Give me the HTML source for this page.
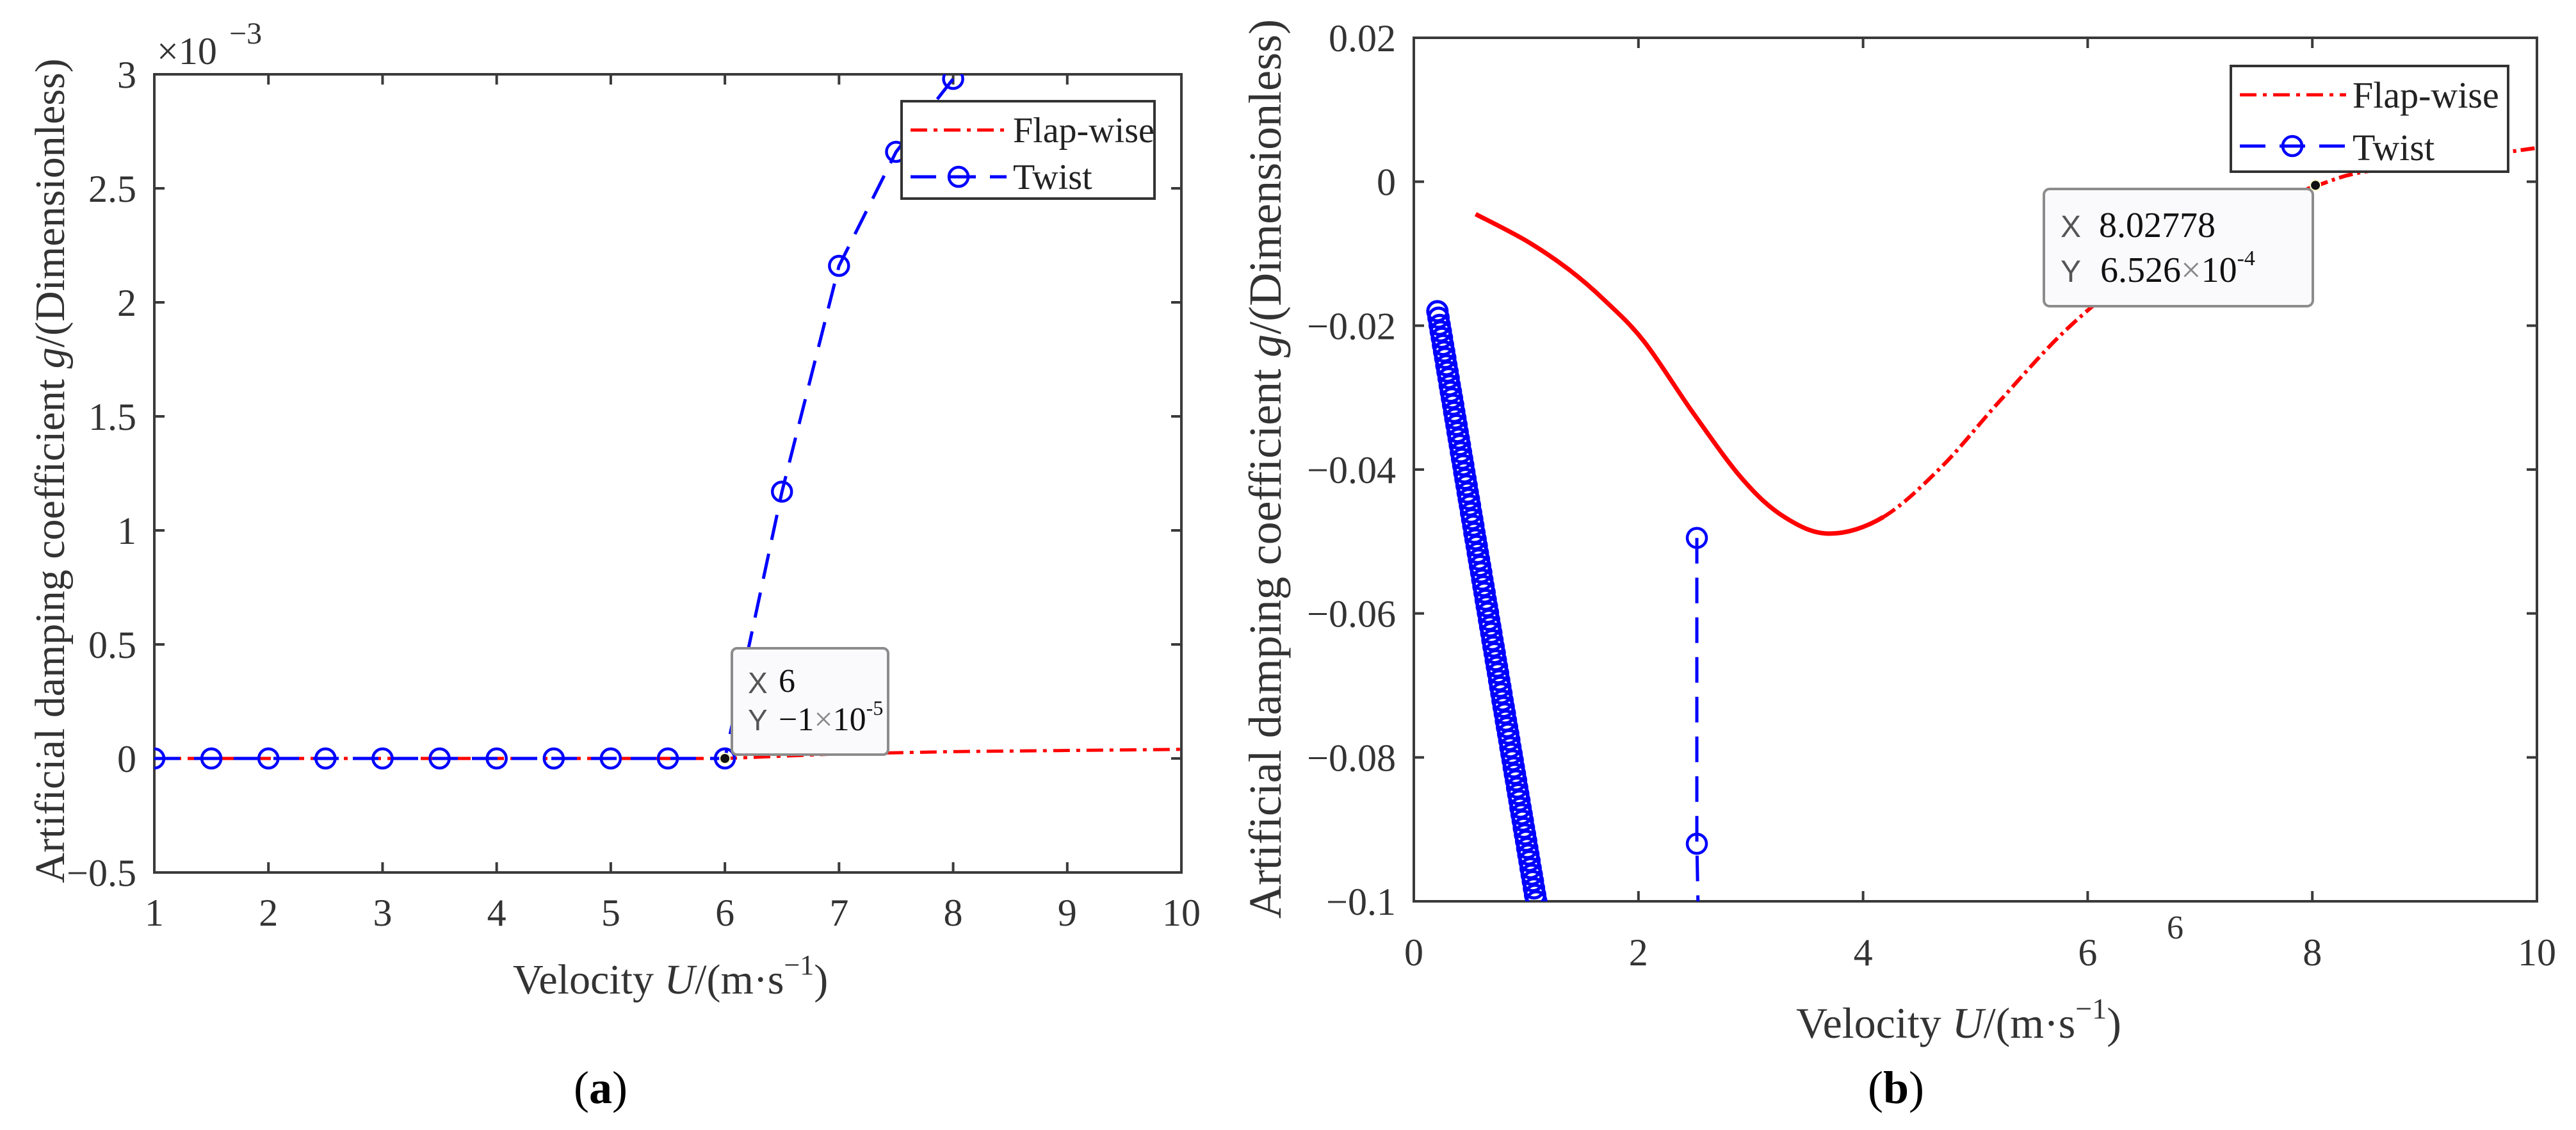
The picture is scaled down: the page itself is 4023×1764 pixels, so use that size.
<!DOCTYPE html>
<html><head><meta charset="utf-8">
<style>
html,body{margin:0;padding:0;background:#fff;}
</style></head>
<body>
<svg id="fig" width="4023" height="1759" viewBox="0 0 4023 1759" xmlns="http://www.w3.org/2000/svg" font-family="Liberation Serif, serif">
<defs>
<clipPath id="clipA"><rect x="241" y="116" width="1604" height="1246"/></clipPath>
<clipPath id="clipB"><rect x="2208" y="59" width="1754" height="1348"/></clipPath>
</defs>
<g id="panelA"></g>
<g id="panelB"></g>
</svg>
<script>
// ---- Panel (a) data ----
const aXTicks = [1,2,3,4,5,6,7,8,9,10];
const aYTicks = [-0.5,0,0.5,1,1.5,2,2.5,3];
const aYTickLabels = ["\u22120.5","0","0.5","1","1.5","2","2.5","3"];
const aTwistX = [1,1.5,2,2.5,3,3.5,4,4.5,5,5.5,6,6.5,7,7.5,8];
const aTwistY = [0,0,0,0,0,0,0,0,0,0,0,1.17,2.16,2.66,2.98];
const aFlapX = [1,6,7,8,9,10];
const aFlapY = [0,0,0.02,0.03,0.035,0.04];
// ---- Panel (b) data ----
const bXTicks = [0,2,4,6,8,10];
const bYTicks = [-0.1,-0.08,-0.06,-0.04,-0.02,0,0.02];
const bYTickLabels = ["\u22120.1","\u22120.08","\u22120.06","\u22120.04","\u22120.02","0","0.02"];
const bFlapX = [0.55,1.0,1.38,1.7,2.05,2.49,2.93,3.3,3.7,4.18,4.7,5.21,5.8,6.4,7.0,7.5,8.03,8.4,9.0,9.5,10];
const bFlapY = [-0.0045,-0.0082,-0.0122,-0.0165,-0.0222,-0.0322,-0.0414,-0.0466,-0.0489,-0.0466,-0.0396,-0.0306,-0.0207,-0.013,-0.0075,-0.0035,-0.0006,0.0012,0.0025,0.0036,0.0047];
const bTwistX = [0.21,0.22,0.23,0.24,0.25,0.26,0.27,0.28,0.29,0.30,0.31,0.32,0.33,0.34,0.35,0.36,0.37,0.38,0.39,0.40,0.41,0.42,0.43,0.44,0.45,0.46,0.47,0.48,0.49,0.50,0.51,0.52,0.53,0.54,0.55,0.56,0.57,0.58,0.59,0.60,0.61,0.62,0.63,0.64,0.65,0.66,0.67,0.68,0.69,0.70,0.71,0.72,0.73,0.74,0.75,0.76,0.77,0.78,0.79,0.80,0.81,0.82,0.83,0.84,0.85,0.86,0.87,0.88,0.89,0.90,0.91,0.92,0.93,0.94,0.95,0.96,0.97,0.98,0.99,1.00,1.01,1.02,1.03,1.04,1.05,1.06,1.07,1.08,1.09];
const bTwistY = [-0.0180,-0.0189,-0.0199,-0.0208,-0.0217,-0.0227,-0.0236,-0.0245,-0.0255,-0.0264,-0.0273,-0.0283,-0.0292,-0.0301,-0.0310,-0.0320,-0.0329,-0.0338,-0.0348,-0.0357,-0.0366,-0.0376,-0.0385,-0.0394,-0.0404,-0.0413,-0.0422,-0.0432,-0.0441,-0.0450,-0.0460,-0.0469,-0.0478,-0.0488,-0.0497,-0.0506,-0.0516,-0.0525,-0.0534,-0.0543,-0.0553,-0.0562,-0.0571,-0.0581,-0.0590,-0.0599,-0.0609,-0.0618,-0.0627,-0.0637,-0.0646,-0.0655,-0.0665,-0.0674,-0.0683,-0.0693,-0.0702,-0.0711,-0.0721,-0.0730,-0.0739,-0.0749,-0.0758,-0.0767,-0.0776,-0.0786,-0.0795,-0.0804,-0.0814,-0.0823,-0.0832,-0.0842,-0.0851,-0.0860,-0.0870,-0.0879,-0.0888,-0.0898,-0.0907,-0.0916,-0.0926,-0.0935,-0.0944,-0.0954,-0.0963,-0.0972,-0.0982,-0.0991,-0.1000];
const bTwist2X = [2.52,2.52,2.53];
const bTwist2Y = [-0.0495,-0.092,-0.1];

const NS = "http://www.w3.org/2000/svg";
const SERIF = "Liberation Serif, serif";
function mk(parent, tag, attrs, text){
  const e = document.createElementNS(NS, tag);
  for (const k in attrs) e.setAttribute(k, attrs[k]);
  if (tag === "text" && !attrs["font-family"]) e.setAttribute("font-family", SERIF);
  if (text !== undefined) e.textContent = text;
  parent.appendChild(e);
  return e;
}
function smoothPath(pts){
  if (pts.length < 2) return "";
  let d = "M" + pts[0][0] + "," + pts[0][1];
  for (let i = 0; i < pts.length - 1; i++){
    const p0 = pts[i-1] || pts[i], p1 = pts[i], p2 = pts[i+1], p3 = pts[i+2] || p2;
    const c1x = p1[0] + (p2[0]-p0[0])/6, c1y = p1[1] + (p2[1]-p0[1])/6;
    const c2x = p2[0] - (p3[0]-p1[0])/6, c2y = p2[1] - (p3[1]-p1[1])/6;
    d += " C" + c1x + "," + c1y + " " + c2x + "," + c2y + " " + p2[0] + "," + p2[1];
  }
  return d;
}

function drawAxes(g, L, T, R, B, xTicks, xs, yTicks, ys, yLabels, xLabelY, yLabelX, fs){
  const frame = mk(g, "rect", {x:L, y:T, width:R-L, height:B-T, fill:"none", stroke:"#3a3a3a", "stroke-width":4});
  
  
  xTicks.forEach(v => {
    const x = xs(v);
    const t = mk(g, "path", {d:`M${x},${B}V${B-16}M${x},${T}V${T+16}`, stroke:"#3a3a3a", "stroke-width":4});
    
    
    const lb = mk(g, "text", {x:x, y:xLabelY, "font-size":fs, "text-anchor":"middle", fill:"#333"}, String(v));
    
    
  });
  yTicks.forEach((v, i) => {
    const y = ys(v);
    const t = mk(g, "path", {d:`M${L},${y}H${L+16}M${R},${y}H${R-16}`, stroke:"#3a3a3a", "stroke-width":4});
    
    
    const lb = mk(g, "text", {x:yLabelX, y:y+21, "font-size":fs, "text-anchor":"end", fill:"#333"}, yLabels[i]);
    
    
  });
}

function circle(g, x, y, r, sw){
  return mk(g, "circle", {cx:x, cy:y, r:r, fill:"none", stroke:"#0000ff", "stroke-width":sw || 4.5});
}

// ================= Panel A =================
(function(){
  const g = document.getElementById("panelA");
  const L=241, T=116, R=1845, B=1362;
  const xs = v => L + (v-1)/9*(R-L);
  const ys = v => B - (v+0.5)/3.5*(B-T);
  drawAxes(g, L, T, R, B, aXTicks, xs, aYTicks, ys, aYTickLabels, 1445, 213, 60);

  const ex = mk(g, "text", {x:245, y:100, "font-size":60, fill:"#333"}, "\u00d710");
  
  
  const ex2 = mk(g, "text", {x:358, y:68, "font-size":48, fill:"#333"}, "\u22123");
  
  

  const plot = mk(g, "g", {"clip-path":"url(#clipA)"});
  
  

  const fp = mk(plot, "path", {d: aFlapX.map((x,i)=>(i?"L":"M")+xs(x)+","+ys(aFlapY[i])).join(""), fill:"none", stroke:"#ff0000", "stroke-width":5, "stroke-dasharray":"26 10 6 10"});
  
  

  const tp = mk(plot, "path", {d: aTwistX.map((x,i)=>(i?"L":"M")+xs(x)+","+ys(aTwistY[i])).join(""), fill:"none", stroke:"#0000ff", "stroke-width":5, "stroke-dasharray":"40 22"});
  
  
  aTwistX.forEach((x,i) => {
    const c = circle(plot, xs(x), ys(aTwistY[i]), 15);
    
    
  });

  const dot = mk(g, "circle", {cx:xs(6), cy:ys(0), r:8, fill:"#111", stroke:"#ffffcc", "stroke-width":2});
  
  
  const box = mk(g, "rect", {x:1143, y:1012, width:244, height:166, rx:8, fill:"#fafafc", stroke:"#8c8c8c", "stroke-width":4});
  
  
  mk(g, "text", {x:1168, y:1082, "font-size":46, fill:"#555", "font-family":"Liberation Sans, sans-serif"}, "X");
  mk(g, "text", {x:1216, y:1080, "font-size":52, fill:"#111"}, "6");
  mk(g, "text", {x:1168, y:1140, "font-size":46, fill:"#555", "font-family":"Liberation Sans, sans-serif"}, "Y");
  const ty = mk(g, "text", {x:1216, y:1140, "font-size":52, fill:"#111"});
  ty.innerHTML = '\u22121<tspan fill="#888">\u00d7</tspan>10<tspan dy="-24" font-size="32">-5</tspan>';
  
  

  const lg = mk(g, "g", {});
  
  
  mk(lg, "rect", {x:1408, y:158, width:395, height:152, fill:"#fff", stroke:"#333", "stroke-width":4});
  mk(lg, "path", {d:"M1422,203H1572", stroke:"#ff0000", "stroke-width":5, "stroke-dasharray":"26 10 6 10"});
  mk(lg, "text", {x:1582, y:222, "font-size":56, fill:"#222"}, "Flap-wise");
  mk(lg, "path", {d:"M1422,276H1572", stroke:"#0000ff", "stroke-width":5, "stroke-dasharray":"40 22"});
  circle(lg, 1497, 276, 15);
  mk(lg, "text", {x:1582, y:295, "font-size":56, fill:"#222"}, "Twist");

  const xt = mk(g, "text", {x:801, y:1551, "font-size":66, fill:"#333"});
  xt.innerHTML = 'Velocity <tspan font-style="italic">U</tspan>/(m\u00b7s<tspan dy="-30" font-size="44">\u22121</tspan><tspan dy="30">)</tspan>';
  
  
  const yt = mk(g, "text", {x:0, y:0, "font-size":66, fill:"#333", "text-anchor":"middle", transform:"translate(100,735) rotate(-90)"});
  yt.innerHTML = 'Artificial damping coefficient <tspan font-style="italic">g</tspan>/(Dimensionless)';
  
  
  const cap = mk(g, "text", {x:938, y:1722, "font-size":72, "text-anchor":"middle", fill:"#000"});
  cap.innerHTML = '(<tspan font-weight="bold">a</tspan>)';
  
  
})();

// ================= Panel B =================
(function(){
  const g = document.getElementById("panelB");
  const L=2208, T=59, R=3962, B=1407;
  const xs = v => L + v/10*(R-L);
  const ys = v => B - (v+0.1)/0.12*(B-T);
  drawAxes(g, L, T, R, B, bXTicks, xs, bYTicks, ys, bYTickLabels, 1507, 2180, 60);

  const plot = mk(g, "g", {"clip-path":"url(#clipB)"});
  
  

  const pts = bFlapX.map((x,i)=>[xs(x), ys(bFlapY[i])]);
  const split = bFlapX.findIndex(x => x >= 4.18);
  const segs = smoothPath(pts).split(" C");
  const f1s = mk(plot, "path", {d:segs.slice(0, split+1).join(" C"), fill:"none", stroke:"#ff0000", "stroke-width":7});
  
  
  const d2 = "M" + pts[split][0] + "," + pts[split][1] + " C" + segs.slice(split+1).join(" C");
  const f2 = mk(plot, "path", {d:d2, fill:"none", stroke:"#ff0000", "stroke-width":6, "stroke-dasharray":"22 7 5 7"});
  
  

  bTwistX.forEach((x,i) => {
    const c = circle(plot, xs(x), ys(bTwistY[i]), 15, 5);
    
    
  });
  const t2 = mk(plot, "path", {d: bTwist2X.map((x,i)=>(i?"L":"M")+xs(x)+","+ys(bTwist2Y[i])).join(""), fill:"none", stroke:"#0000ff", "stroke-width":5, "stroke-dasharray":"40 22"});
  
  
  bTwist2X.slice(0,2).forEach((x,i) => {
    const c = circle(plot, xs(x), ys(bTwist2Y[i]), 15);
    
    
  });

  const box = mk(g, "rect", {x:3192, y:295, width:420, height:183, rx:9, fill:"#fafafc", stroke:"#8c8c8c", "stroke-width":4});
  
  
  const dot = mk(g, "circle", {cx:xs(8.028), cy:ys(-0.0005), r:8, fill:"#111", stroke:"#ffffcc", "stroke-width":2});
  
  
  mk(g, "text", {x:3218, y:370, "font-size":48, fill:"#555", "font-family":"Liberation Sans, sans-serif"}, "X");
  mk(g, "text", {x:3278, y:370, "font-size":56, fill:"#111"}, "8.02778");
  mk(g, "text", {x:3218, y:440, "font-size":48, fill:"#555", "font-family":"Liberation Sans, sans-serif"}, "Y");
  const ty = mk(g, "text", {x:3280, y:440, "font-size":56, fill:"#111"});
  ty.innerHTML = '6.526<tspan fill="#888">\u00d7</tspan>10<tspan dy="-26" font-size="34">-4</tspan>';
  
  

  const lg = mk(g, "g", {});
  
  
  mk(lg, "rect", {x:3484, y:103, width:433, height:165, fill:"#fff", stroke:"#333", "stroke-width":4});
  mk(lg, "path", {d:"M3498,148H3664", stroke:"#ff0000", "stroke-width":5, "stroke-dasharray":"26 10 6 10"});
  mk(lg, "text", {x:3674, y:168, "font-size":58, fill:"#222"}, "Flap-wise");
  mk(lg, "path", {d:"M3498,228H3664", stroke:"#0000ff", "stroke-width":5, "stroke-dasharray":"40 22"});
  circle(lg, 3580, 228, 15);
  mk(lg, "text", {x:3674, y:250, "font-size":58, fill:"#222"}, "Twist");

  const stray = mk(g, "text", {x:3397, y:1465, "font-size":52, "text-anchor":"middle", fill:"#333"}, "6");
  
  

  const xt = mk(g, "text", {x:2805, y:1620, "font-size":68, fill:"#333"});
  xt.innerHTML = 'Velocity <tspan font-style="italic">U</tspan>/(m\u00b7s<tspan dy="-30" font-size="46">\u22121</tspan><tspan dy="30">)</tspan>';
  
  
  const yt = mk(g, "text", {x:0, y:0, "font-size":72, fill:"#333", "text-anchor":"middle", transform:"translate(2000,732) rotate(-90)"});
  yt.innerHTML = 'Artificial damping coefficient <tspan font-style="italic">g</tspan>/(Dimensionless)';
  
  
  const cap = mk(g, "text", {x:2961, y:1722, "font-size":72, "text-anchor":"middle", fill:"#000"});
  cap.innerHTML = '(<tspan font-weight="bold">b</tspan>)';
  
  
})();
</script>
</body></html>
